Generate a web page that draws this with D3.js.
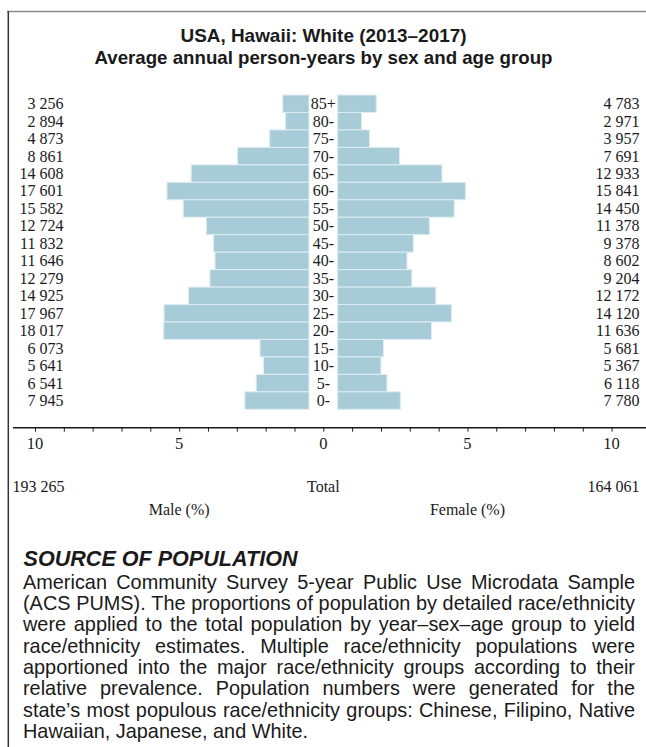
<!DOCTYPE html>
<html>
<head>
<meta charset="utf-8">
<script src="https://cdn.jsdelivr.net/npm/d3@7"></script>
<style>
  html, body { margin: 0; padding: 0; background: #fff; }
  svg { display: block; }
</style>
</head>
<body>
<svg id="chart" width="646" height="747"></svg>
<script>
// ---- data ----
const ages = ["85+", "80-", "75-", "70-", "65-", "60-", "55-", "50-", "45-", "40-", "35-", "30-", "25-", "20-", "15-", "10-", "5-", "0-"];
const maleValues = [3256, 2894, 4873, 8861, 14608, 17601, 15582, 12724, 11832, 11646, 12279, 14925, 17967, 18017, 6073, 5641, 6541, 7945];
const femaleValues = [4783, 2971, 3957, 7691, 12933, 15841, 14450, 11378, 9378, 8602, 9204, 12172, 14120, 11636, 5681, 5367, 6118, 7780];
const maleTotal = 193265;
const femaleTotal = 164061;
const axisTicks = [-10, -9, -8, -7, -6, -5, -4, -3, -2, -1, 0, 1, 2, 3, 4, 5, 6, 7, 8, 9, 10];
const axisLabels = [-10, -5, 0, 5, 10];
const titleLines = ["USA, Hawaii: White (2013\u20132017)", "Average annual person-years by sex and age group"];
const sourceHeading = "SOURCE OF POPULATION";
const sourceLines = [
  "American Community Survey 5-year Public Use Microdata Sample",
  "(ACS PUMS). The proportions of population by detailed race/ethnicity",
  "were applied to the total population by year\u2013sex\u2013age group to yield",
  "race/ethnicity estimates. Multiple race/ethnicity populations were",
  "apportioned into the major race/ethnicity groups according to their",
  "relative prevalence. Population numbers were generated for the",
  "state\u2019s most populous race/ethnicity groups: Chinese, Filipino, Native",
  "Hawaiian, Japanese, and White."
];

// ---- layout ----
const svg = d3.select("#chart");
const serif = "'Liberation Serif', 'Times New Roman', serif";
const sans = "'Liberation Sans', Arial, sans-serif";
const cx = 323.3, pxPerPct = 28.83, halfGap = 14.3;
const grand = maleTotal + femaleTotal;
const fmt = v => d3.format(",")(v).replace(/,/g, " ");

// frame
svg.append("line").attr("x1", 7).attr("x2", 646).attr("y1", 11.5).attr("y2", 11.5)
  .attr("stroke", "#8a8a8a").attr("stroke-width", 1.6);
svg.append("line").attr("x1", 8.3).attr("x2", 8.3).attr("y1", 11).attr("y2", 747)
  .attr("stroke", "#333").attr("stroke-width", 1.5);

// title
const titleWidths = [286, 458];
svg.append("g").selectAll("text").data(titleLines).join("text")
  .attr("x", 323.5).attr("y", (d, i) => 42 + i * 22)
  .attr("text-anchor", "middle").attr("font-family", sans).attr("font-weight", "bold")
  .attr("font-size", 19).attr("fill", "#1a1a1a")
  .attr("textLength", (d, i) => titleWidths[i]).attr("lengthAdjust", "spacingAndGlyphs")
  .text(d => d);

// scales
const y = d3.scaleBand().domain(ages).range([95, 409.3]).paddingInner(0);
const xm = d3.scaleLinear().domain([0, 10]).range([cx - halfGap, cx - halfGap - 10 * pxPerPct]);
const xf = d3.scaleLinear().domain([0, 10]).range([cx + halfGap, cx + halfGap + 10 * pxPerPct]);
const xa = d3.scaleLinear().domain([-10, 10]).range([cx - 10 * pxPerPct, cx + 10 * pxPerPct]);

const barFill = "#a8cbd8", barStroke = "#deedf2";
const pct = v => v / grand * 100;

svg.append("g").selectAll("rect").data(maleValues).join("rect")
  .attr("x", d => xm(pct(d))).attr("width", d => xm(0) - xm(pct(d)))
  .attr("y", (d, i) => y(ages[i])).attr("height", y.bandwidth())
  .attr("fill", barFill).attr("stroke", barStroke).attr("stroke-width", 1);
svg.append("g").selectAll("rect").data(femaleValues).join("rect")
  .attr("x", xf(0)).attr("width", d => xf(pct(d)) - xf(0))
  .attr("y", (d, i) => y(ages[i])).attr("height", y.bandwidth())
  .attr("fill", barFill).attr("stroke", barStroke).attr("stroke-width", 1);

// age labels
svg.append("g").selectAll("text").data(ages).join("text")
  .attr("x", cx).attr("y", d => y(d) + y.bandwidth() / 2 + 5.4)
  .attr("text-anchor", "middle").attr("font-family", serif).attr("font-size", 16)
  .attr("fill", "#1a1a1a").text(d => d);

// value labels
svg.append("g").selectAll("text").data(maleValues).join("text")
  .attr("x", 63.5).attr("y", (d, i) => y(ages[i]) + y.bandwidth() / 2 + 5.4)
  .attr("text-anchor", "end").attr("font-family", serif).attr("font-size", 16)
  .attr("fill", "#1a1a1a").text(d => fmt(d));
svg.append("g").selectAll("text").data(femaleValues).join("text")
  .attr("x", 639.5).attr("y", (d, i) => y(ages[i]) + y.bandwidth() / 2 + 5.4)
  .attr("text-anchor", "end").attr("font-family", serif).attr("font-size", 16)
  .attr("fill", "#1a1a1a").text(d => fmt(d));

// axis
const axisY = 427.7;
const axis = d3.axisBottom(xa).tickValues(axisTicks).tickSize(4).tickFormat("");
const ag = svg.append("g").attr("transform", `translate(0,${axisY})`).call(axis);
ag.select(".domain").remove();
ag.selectAll(".tick line").attr("stroke", "#222").attr("stroke-width", 1);
svg.append("line").attr("x1", 13).attr("x2", 646).attr("y1", axisY).attr("y2", axisY)
  .attr("stroke", "#1a1a1a").attr("stroke-width", 1.4);
svg.append("g").selectAll("text").data(axisLabels).join("text")
  .attr("x", d => xa(d)).attr("y", 448.5).attr("text-anchor", "middle")
  .attr("font-family", serif).attr("font-size", 16.5).attr("fill", "#1a1a1a")
  .text(d => Math.abs(d));

// totals
const tl = svg.append("g").attr("font-family", serif).attr("font-size", 16).attr("fill", "#1a1a1a");
tl.append("text").attr("x", 12.5).attr("y", 492.3).text(fmt(maleTotal));
tl.append("text").attr("x", cx).attr("y", 492.3).attr("text-anchor", "middle").text("Total");
tl.append("text").attr("x", 639.5).attr("y", 492.3).attr("text-anchor", "end").text(fmt(femaleTotal));
tl.append("text").attr("x", xa(-5)).attr("y", 515).attr("text-anchor", "middle").text("Male (%)");
tl.append("text").attr("x", xa(5)).attr("y", 515).attr("text-anchor", "middle").text("Female (%)");

// source section
svg.append("text").attr("x", 23.5).attr("y", 565.7)
  .attr("font-family", sans).attr("font-weight", "bold").attr("font-style", "italic")
  .attr("font-size", 21.5).attr("fill", "#1a1a1a")
  .attr("textLength", 274).attr("lengthAdjust", "spacingAndGlyphs")
  .text(sourceHeading);

const left = 23, right = 635, W = right - left;
let fs = 17.5;
const probe = svg.append("text").attr("font-family", sans).attr("font-size", fs).attr("visibility", "hidden");
function measure(s) { probe.text(s); return probe.node().getComputedTextLength(); }
const maxNatural = d3.max(sourceLines.slice(0, -1), l => measure(l));
fs = fs * W / maxNatural * 0.998;
probe.attr("font-size", fs);
const body = svg.append("g").attr("font-family", sans).attr("font-size", fs).attr("fill", "#1a1a1a");
sourceLines.forEach((line, li) => {
  const yy = 588.7 + li * 21.3;
  const words = line.split(" ");
  const t = body.append("text").attr("y", yy);
  if (li === sourceLines.length - 1) {
    t.attr("x", left).text(line);
    return;
  }
  const widths = words.map(w => measure(w));
  const extra = (W - d3.sum(widths)) / (words.length - 1);
  let x = left;
  words.forEach((w, wi) => {
    t.append("tspan").attr("x", x).text(w + (wi < words.length - 1 ? " " : ""));
    x += widths[wi] + extra;
  });
});
probe.remove();
</script>
</body>
</html>
